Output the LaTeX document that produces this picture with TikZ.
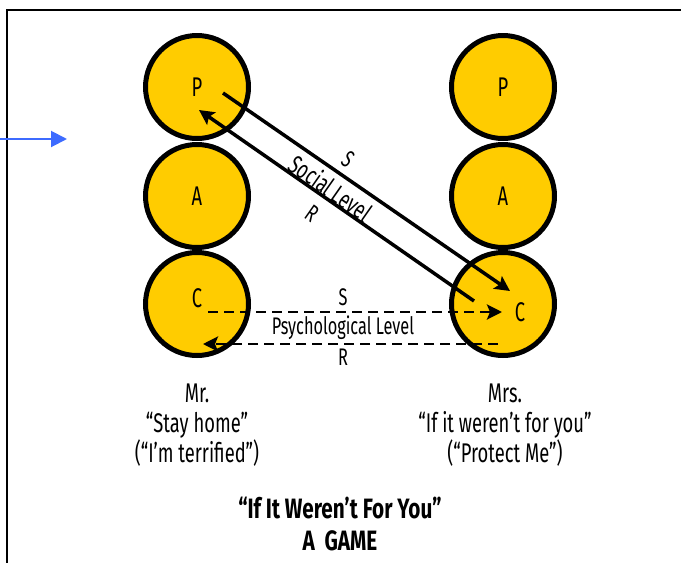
\documentclass[tikz,border=0pt]{standalone}
\usepackage{fontspec}
\setmainfont{Fira Sans}[FakeStretch=0.68]
\newfontfamily\titlefont{Fira Sans}[FakeStretch=0.74]
\usetikzlibrary{arrows.meta, positioning, calc}
\definecolor{egogold}{HTML}{FFCC00}
\definecolor{pointblue}{HTML}{3D6BFF}
\tikzset{
  >={Stealth[length=15pt, width=15pt, inset=3pt]},
  ego/.style={circle, draw=black, line width=5pt, fill=egogold, minimum size=103pt,
              inner sep=0pt, font=\fontsize{27}{30}\selectfont},
  egolbl/.style={inner sep=0pt, font=\fontsize{27}{30}\selectfont},
  social/.style={->, line width=3.5pt},
  psych/.style={->, line width=2.8pt, dash pattern=on 10pt off 6pt},
  lbl/.style={inner sep=1pt, font=\fontsize{24}{27}\selectfont},
  caption/.style={align=center, font=\fontsize{27}{30}\selectfont},
}
\begin{document}
\begin{tikzpicture}[x=1pt, y=-1pt]
  \useasboundingbox (0,0) rectangle (681,563);
  % frame
  \draw[line width=2.5pt] (7,563) -- (7,10) -- (681,10);
  % pointer
  \coordinate (ptail) at (0,139);
  \coordinate (phead) at (67,139);
  \draw[pointblue, line width=2pt, -{Triangle[length=16pt, width=16pt]}] (ptail) -- (phead);
  % ego states
  \node[ego] (mrP) at (197,87) {P};
  \node[ego] (mrA) at (197,196) {A};
  \node[ego] (mrC) at (197,304) {};
  \node[ego] (mrsP) at (503,87) {P};
  \node[ego] (mrsA) at (503,196) {A};
  \node[ego] (mrsC) at (503,304) {};
  \node[egolbl] (mrClbl) at ($(mrC)+(0,-6)$) {C};
  \node[egolbl] (mrsClbl) at ($(mrsC)+(17,8)$) {C};
  % social level
  \coordinate (sosS) at ($(mrP)+(26,6)$);
  \coordinate (soeS) at ($(mrsC)+(7,-13)$);
  \coordinate (sosR) at ($(mrsC)+(-29,-3)$);
  \coordinate (soeR) at ($(mrP)+(2,23)$);
  \draw[social] (sosS) -- (soeS);
  \draw[social] (sosR) -- (soeR);
  \node[lbl, rotate=-35] (soS) at (348,159) {S};
  \node[lbl, rotate=-35, font=\fontsize{26}{28}\selectfont] (soLvl) at (331,188) {Social Level};
  \node[lbl, rotate=-35] (soR) at (312,214) {R};
  % psychological level
  \coordinate (pssS) at ($(mrC)+(11,8)$);
  \coordinate (pseS) at ($(mrsC)+(-1,8)$);
  \coordinate (pssR) at ($(mrsC)+(-5,40)$);
  \coordinate (pseR) at ($(mrC)+(6,40)$);
  \draw[psych] (pssS) -- (pseS);
  \draw[psych] (pssR) -- (pseR);
  \node[lbl] (psS) at (343,297) {S};
  \node[lbl] (psLvl) at (343,328) {Psychological Level};
  \node[lbl] (psR) at (343,357) {R};
  % captions
  \node[caption] (mrTxt) at (197,425) {Mr.\\“Stay home”\\(“I’m terrified”)};
  \node[caption] (mrsTxt) at (505,425) {Mrs.\\“If it weren’t for you”\\(“Protect Me”)};
  \node[caption, font=\titlefont\fontsize{28}{32}\selectfont\bfseries] (title) at (340,524)
    {“If It Weren’t For You”\\A\ \ GAME};
\end{tikzpicture}
\end{document}
